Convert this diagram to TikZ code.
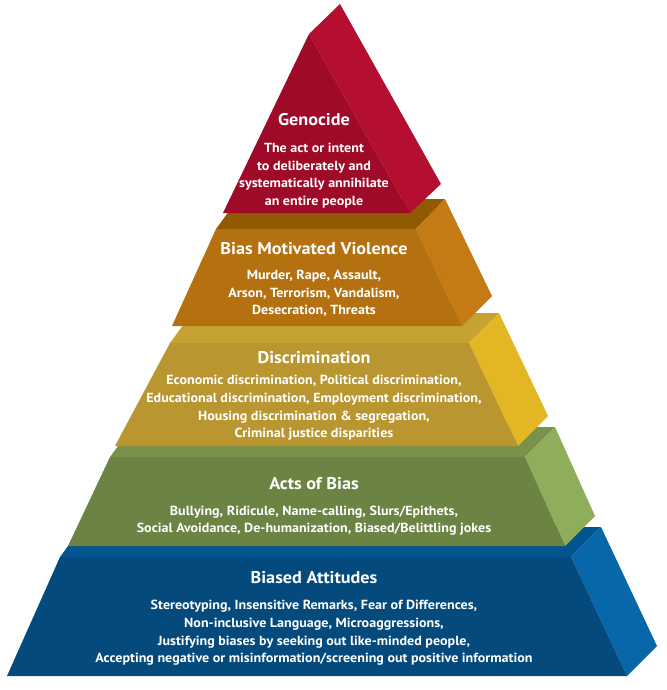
\documentclass[tikz,border=0pt]{standalone}
\usepackage{fontspec}
\setmainfont{PT Sans}
\newfontfamily\bodyfont[FakeStretch=1.065]{PT Sans}
\newfontfamily\titlefont[FakeStretch=1.07]{PT Sans}
\definecolor{redF}{HTML}{9E0A28}
\definecolor{redR}{HTML}{B40F31}
\definecolor{oraT}{HTML}{8F5A02}
\definecolor{oraF}{HTML}{B5700F}
\definecolor{oraR}{HTML}{C47B16}
\definecolor{yelT}{HTML}{C5A232}
\definecolor{yelF}{HTML}{BA9630}
\definecolor{yelR}{HTML}{E2B723}
\definecolor{grnT}{HTML}{7A9149}
\definecolor{grnF}{HTML}{6B8343}
\definecolor{grnR}{HTML}{8FAE5B}
\definecolor{bluT}{HTML}{03558F}
\definecolor{bluF}{HTML}{044A7C}
\definecolor{bluR}{HTML}{0867A8}
\tikzset{
  title/.style={text=white,font=\titlefont\bfseries\fontsize{17}{20}\selectfont,inner sep=0pt},
  body/.style={text=white,font=\bodyfont\bfseries\fontsize{13.2}{17.6}\selectfont,align=center,inner sep=0pt},
}
\begin{document}
\begin{tikzpicture}[x=1pt,y=-1pt]
\useasboundingbox (0,0) rectangle (666,690);
\fill[white] (0,0) rectangle (666,690);
% Biased Attitudes (blue)
\fill[bluT] (60,557) -- (82,527) -- (601,527) -- (571,557) -- cycle;
\fill[bluR] (571,557) -- (601,527) -- (657,646) -- (627,676) -- cycle;
\fill[bluF] (60,557) -- (571,557) -- (627,676) -- (7,676) -- cycle;
% Acts of Bias (green)
\fill[grnT] (110,457) -- (132,427) -- (555,427) -- (525,457) -- cycle;
\fill[grnR] (525,457) -- (555,427) -- (595,516) -- (565,546) -- cycle;
\fill[grnF] (110,457) -- (525,457) -- (565,546) -- (68,546) -- cycle;
% Discrimination (yellow)
\fill[yelT] (170,343) -- (192,313) -- (499,313) -- (469,343) -- cycle;
\fill[yelR] (469,343) -- (499,313) -- (548,416) -- (518,446) -- cycle;
\fill[yelF] (170,343) -- (469,343) -- (518,446) -- (115,446) -- cycle;
% Bias Motivated Violence (orange)
\fill[oraT] (216,229) -- (238,199) -- (445,199) -- (416,229) -- cycle;
\fill[oraR] (416,229) -- (445,199) -- (492,296) -- (462,326) -- cycle;
\fill[oraF] (216,229) -- (416,229) -- (462,326) -- (172,326) -- cycle;
% Genocide (red)
\fill[redR] (309,34) -- (340,4) -- (441,184) -- (410,213) -- cycle;
\fill[redF] (309,34) -- (410,213) -- (223,213) -- cycle;
% texts
\node[title] (t1) at (314,120) {Genocide};
\node[body] (b1) at (314,175.5) {The act or intent\\to deliberately and\\systematically annihilate\\an entire people};
\node[title] (t2) at (314,249) {Bias Motivated Violence};
\node[body] (b2) at (314,293.5) {Murder, Rape, Assault,\\Arson, Terrorism, Vandalism,\\Desecration, Threats};
\node[title] (t3) at (314,358) {Discrimination};
\node[body] (b3) at (314,408) {Economic discrimination, Political discrimination,\\Educational discrimination, Employment discrimination,\\Housing discrimination \& segregation,\\Criminal justice disparities};
\node[title] (t4) at (314,484) {Acts of Bias};
\node[body] (b4) at (314,520.5) {Bullying, Ridicule, Name-calling, Slurs/Epithets,\\Social Avoidance, De-humanization, Biased/Belittling jokes};
\node[title] (t5) at (314,578) {Biased Attitudes};
\node[body] (b5) at (314,633) {Stereotyping, Insensitive Remarks, Fear of Differences,\\Non-inclusive Language, Microaggressions,\\Justifying biases by seeking out like-minded people,\\Accepting negative or misinformation/screening out positive information};
\end{tikzpicture}
\end{document}
